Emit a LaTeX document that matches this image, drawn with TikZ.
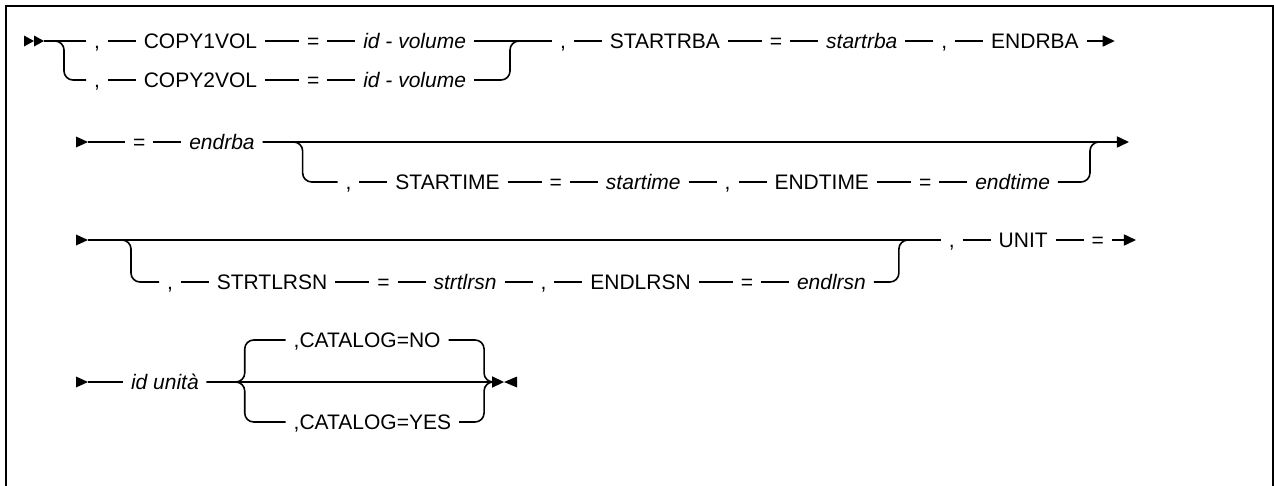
\documentclass[tikz,border=0pt]{standalone}
\usepackage{fontspec}
\setmainfont{Liberation Sans}
\usetikzlibrary{positioning,arrows.meta,calc}
\newcommand\dfont{\fontsize{21pt}{24pt}\selectfont}
\begin{document}
\begin{tikzpicture}[x=1pt,y=-1pt,
  t/.style={inner xsep=8pt, inner ysep=0pt, outer sep=0pt, text height=15pt, text depth=0pt, font=\dfont, anchor=west},
  v/.style={t, font=\dfont\itshape},
  ln/.style={line width=1.6pt},
  rc/.style={ln, rounded corners=9pt},
  tip/.style={ln, -{Triangle[length=12pt,width=11pt]}},
  node distance=28pt]
\useasboundingbox (0,0) rectangle (1274,485);
\draw[line width=2pt] (6,486) -- (6,5.5) -- (1272.5,5.5) -- (1272.5,486);

% ---------- row 1
\fill (24,35.5) -- (34,41) -- (24,46.5) -- cycle;
\fill (34,35.5) -- (44,41) -- (34,46.5) -- cycle;
\coordinate (s1e) at (44,41);
\coordinate (br1) at (64,41);
\node[t] (a1) at (86,41) {,};
\node[t, right=of a1] (a2) {COPY1VOL};
\node[t, right=34pt of a2] (a3) {=};
\node[v, right=of a3] (a4) {id - volume};
\node[t, right=78pt of a4] (a5) {,};
\node[t, right=of a5] (a6) {STARTRBA};
\node[t, right=34pt of a6] (a7) {=};
\node[v, right=of a7] (a8) {startrba};
\node[t, right=of a8] (a9) {,};
\node[t, right=of a9] (a10) {ENDRBA};
\coordinate[right=28pt of a10] (e1);
\node[t] (b1) at (86,80) {,};
\node[t, right=of b1] (b2) {COPY2VOL};
\node[t, right=34pt of b2] (b3) {=};
\node[v, right=of b3] (b4) {id - volume};
\coordinate (j1) at ($(a4.east)+(36,0)$);
\draw[ln] (s1e) -- (a1) -- (a2) -- (a3) -- (a4) -- (a5) -- (a6) -- (a7) -- (a8) -- (a9) -- (a10);
\draw[tip] (a10) -- (e1);
\draw[rc] (s1e) -| (br1 |- b1.west) -- (b1.west);
\draw[ln] (b1) -- (b2) -- (b3) -- (b4);
\draw[rc] (b4.east) -| (j1) -- ($(j1)+(14,0)$);

% ---------- row 2
\fill (76,136.5) -- (88,142) -- (76,147.5) -- cycle;
\coordinate (s2e) at (88,142);
\node[t] (c1) at (125,142) {=};
\node[v, right=of c1] (c2) {endrba};
\coordinate (br2) at ($(c2.east)+(40,0)$);
\node[t] (d1) at ($(br2)+(35,40)$) {,};
\node[t, right=of d1] (d2) {STARTIME};
\node[t, right=34pt of d2] (d3) {=};
\node[v, right=of d3] (d4) {startime};
\node[t, right=of d4] (d5) {,};
\node[t, right=of d5] (d6) {ENDTIME};
\node[t, right=34pt of d6] (d7) {=};
\node[v, right=of d7] (d8) {endtime};
\coordinate (j2) at ($(d8.east |- c2.east)+(32,0)$);
\coordinate (e2) at ($(j2)+(39,0)$);
\draw[ln] (s2e) -- (c1) -- (c2);
\draw[tip] (c2) -- (e2);
\draw[rc] (c2.east) -| (br2 |- d1.west) -- (d1.west);
\draw[ln] (d1) -- (d2) -- (d3) -- (d4) -- (d5) -- (d6) -- (d7) -- (d8);
\draw[rc] (d8.east) -| (j2) -- ($(j2)+(14,0)$);

% ---------- row 3
\fill (76,234.5) -- (88,240) -- (76,245.5) -- cycle;
\coordinate (s3e) at (88,240);
\coordinate (br3) at (131,240);
\node[t] (f1) at (159,282) {,};
\node[t, right=of f1] (f2) {STRTLRSN};
\node[t, right=34pt of f2] (f3) {=};
\node[v, right=of f3] (f4) {strtlrsn};
\node[t, right=of f4] (f5) {,};
\node[t, right=of f5] (f6) {ENDLRSN};
\node[t, right=34pt of f6] (f7) {=};
\node[v, right=of f7] (f8) {endlrsn};
\coordinate (j3) at ($(f8.east |- br3)+(25,0)$);
\node[t] (g1) at ($(j3)+(42,0)$) {,};
\node[t, right=of g1] (g2) {UNIT};
\node[t, right=of g2] (g3) {=};
\coordinate[right=24pt of g3] (e3);
\draw[ln] (s3e) -- (g1) -- (g2) -- (g3);
\draw[tip] (g3) -- (e3);
\draw[rc] (s3e) -| (br3 |- f1.west) -- (f1.west);
\draw[ln] (f1) -- (f2) -- (f3) -- (f4) -- (f5) -- (f6) -- (f7) -- (f8);
\draw[rc] (f8.east) -| (j3) -- ($(j3)+(14,0)$);

% ---------- row 4
\fill (76,376.5) -- (88,382) -- (76,387.5) -- cycle;
\coordinate (s4e) at (88,382);
\node[v] (h1) at (123,382) {id unità};
\coordinate (br4) at ($(h1.east)+(38,0)$);
\node[t] (h2) at ($(br4)+(41,-42)$) {,CATALOG=NO};
\node[t] (h3) at ($(br4)+(41,40)$) {,CATALOG=YES};
\coordinate (j4) at ($(h3.east |- h1.east)+(25,0)$);
\coordinate (e4) at ($(j4)+(20,0)$);
\draw[ln] (s4e) -- (h1);
\draw[tip] (h1) -- (e4);
\fill ($(e4)+(13,-5.5)$) -- (e4) -- ($(e4)+(13,5.5)$) -- cycle;
\draw[rc] (h1.east) -| (br4 |- h2.west) -- (h2.west);
\draw[rc] (h1.east) -| (br4 |- h3.west) -- (h3.west);
\draw[rc] (h2.east) -| (j4) -- ($(j4)+(14,0)$);
\draw[rc] (h3.east) -| (j4) -- ($(j4)+(14,0)$);
\end{tikzpicture}
\end{document}
